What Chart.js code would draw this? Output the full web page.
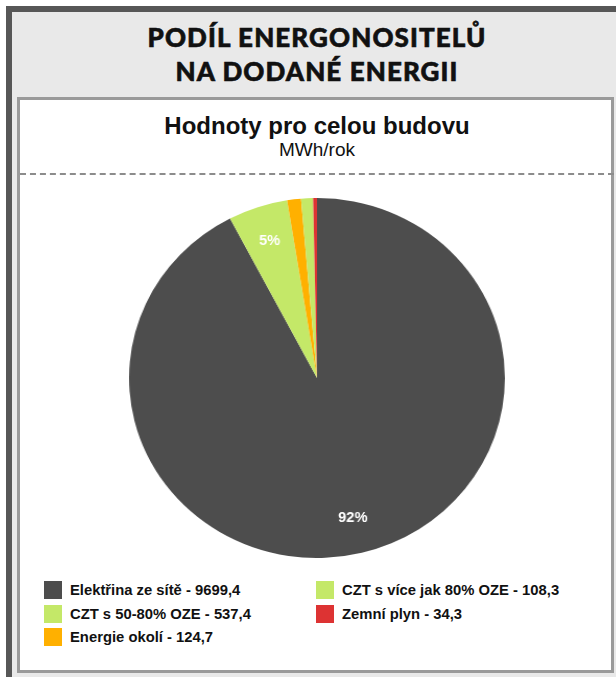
<!DOCTYPE html>
<html>
<head>
<meta charset="utf-8">
<script src="https://cdn.jsdelivr.net/npm/chart.js@4"></script>
<style>
  html, body { margin: 0; padding: 0; background: #fff; width: 616px; height: 677px; overflow: hidden; }
  .frame {
    position: absolute; left: 6px; top: 6px; width: 700px; height: 700px;
    border: 6px solid #575757; background: #e9e9e9; box-sizing: border-box;
  }
  .title {
    position: absolute; left: 9px; top: 20px; width: 616px; text-align: center;
    font-family: "Lato", "Liberation Sans", sans-serif; font-weight: 900; font-size: 26px;
    line-height: 34px; color: #111; letter-spacing: 1.1px;
    -webkit-text-stroke: 0.6px #111;
  }
  .box {
    position: absolute; left: 17px; top: 97px; width: 597px; height: 576px;
    border: 3px solid #9a9a9a; background: #fff; box-sizing: border-box;
  }
  .subtitle {
    position: absolute; left: 0; top: 112px; width: 634px; text-align: center;
    font-family: "Liberation Sans", Arial, sans-serif; font-weight: bold; font-size: 24px; color: #111;
  }
  .unit {
    position: absolute; left: 0; top: 139px; width: 634px; text-align: center;
    font-family: "Liberation Sans", Arial, sans-serif; font-size: 19px; color: #111;
  }
  .dash {
    position: absolute; left: 20px; top: 173px; width: 594px; height: 0;
    border-top: 2px dashed #8c8c8c;
  }
  #wrap {
    position: absolute; left: 137px; top: 198px; width: 360px; height: 360px;
    transform: scaleX(1.044); transform-origin: 50% 50%;
  }
  .legend {
    position: absolute; left: 44px; top: 581px; width: 560px;
    font-family: "Liberation Sans", Arial, sans-serif; font-weight: bold; font-size: 14.8px; color: #111;
  }
  .legend .item { position: absolute; height: 18px; line-height: 18px; white-space: nowrap; }
  .legend .sw { display: inline-block; width: 18px; height: 18px; vertical-align: top; margin-right: 8px; }
</style>
</head>
<body>
<div class="frame"></div>
<div class="title">PODÍL ENERGONOSITELŮ<br>NA DODANÉ ENERGII</div>
<div class="box"></div>
<div class="subtitle">Hodnoty pro celou budovu</div>
<div class="unit">MWh/rok</div>
<div class="dash"></div>
<div id="wrap"><canvas id="pie"></canvas></div>
<div class="legend" id="legend"></div>
<script>
// data
const labels = ['Elektřina ze sítě', 'CZT s 50-80% OZE', 'Energie okolí', 'CZT s více jak 80% OZE', 'Zemní plyn'];
const values = [9699.4, 537.4, 124.7, 108.3, 34.3];
const colors = ['#4d4d4d', '#c4e868', '#ffb000', '#c4e868', '#dd3333'];
// legend order (two columns)
const legendOrder = [0, 1, 2, 3, 4];
const legendCol = [0, 0, 0, 1, 1];
const legendRow = [0, 1, 2, 0, 1];

const total = values.reduce((a, b) => a + b, 0);
const fmt = v => v.toFixed(1).replace('.', ',');

// popisky procent uvnitř výsečí
const pctLabels = {
    id: 'pctLabels',
    afterDatasetsDraw(chart) {
        const ctx = chart.ctx;
        const meta = chart.getDatasetMeta(0);
        ctx.save();
        ctx.fillStyle = '#fff';
        ctx.font = 'bold 14px "Liberation Sans", Arial, sans-serif';
        ctx.textAlign = 'center';
        ctx.textBaseline = 'middle';
        meta.data.forEach((arc, i) => {
            const pct = values[i] / total * 100;
            if (pct < 3) return;
            const mid = (arc.startAngle + arc.endAngle) / 2;
            const r = arc.outerRadius * 0.8;
            ctx.fillText(Math.round(pct) + '%', arc.x + Math.cos(mid) * r, arc.y + Math.sin(mid) * r);
        });
        ctx.restore();
    }
};

new Chart(document.getElementById('pie').getContext('2d'), {
    type: 'pie',
    data: {
        labels: labels,
        datasets: [{
            data: values,
            backgroundColor: colors,
            borderWidth: 0
        }]
    },
    options: {
        responsive: true,
        maintainAspectRatio: false,
        animation: false,
        layout: { padding: 0 },
        plugins: {
            legend: { display: false },
            tooltip: { enabled: false }
        }
    },
    plugins: [pctLabels]
});

const legendDiv = document.getElementById('legend');
legendOrder.forEach((i, k) => {
    const item = document.createElement('div');
    item.className = 'item';
    item.style.left = (legendCol[k] * 272) + 'px';
    item.style.top = (legendRow[k] * 23.5) + 'px';
    item.innerHTML = '<span class="sw" style="background:' + colors[i] + '"></span>' + labels[i] + ' - ' + fmt(values[i]);
    legendDiv.appendChild(item);
});
</script>
</body>
</html>
